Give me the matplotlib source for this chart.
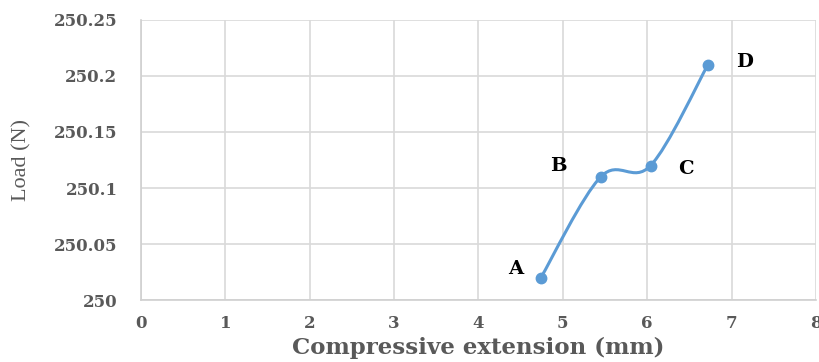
import numpy as np
import matplotlib
matplotlib.use("Agg")
import matplotlib.pyplot as plt
from matplotlib.path import Path
from matplotlib.patches import PathPatch

# data
ext = [4.74, 5.45, 6.04, 6.72]          # compressive extension (mm)
load = [250.02, 250.11, 250.12, 250.21]  # load (N)
names = ['A', 'B', 'C', 'D']
xticks = [0, 1, 2, 3, 4, 5, 6, 7, 8]
yticks = [250, 250.05, 250.1, 250.15, 250.2, 250.25]
ytick_labels = ['250', '250.05', '250.1', '250.15', '250.2', '250.25']

grey = '#595959'
blue = '#5B9BD5'
wide = ['DejaVu Serif']
serif = ['Liberation Serif', 'DejaVu Serif']

fig = plt.figure(figsize=(8.2, 3.62), dpi=100)
ax = fig.add_axes([0.172, 0.171, 0.823, 0.774])

# excel style smoothed line: bezier through the points
pts = np.column_stack([ext, load])
verts = [pts[0]]
codes = [Path.MOVETO]
n = len(pts)
for i in range(n - 1):
    p0 = pts[max(i - 1, 0)]
    p1 = pts[i]
    p2 = pts[i + 1]
    p3 = pts[min(i + 2, n - 1)]
    c1 = p1 + (p2 - p0) / 6.0
    c2 = p2 - (p3 - p1) / 6.0
    verts += [c1, c2, p2]
    codes += [Path.CURVE4] * 3
ax.add_patch(PathPatch(Path(verts, codes), facecolor='none', edgecolor=blue,
                       lw=2.2, capstyle='round', zorder=3))
ax.plot(ext, load, 'o', color=blue, ms=7.5, zorder=4)

# point labels
offs = [(-0.3, 0.008), (-0.5, 0.01), (0.42, -0.003), (0.43, 0.002)]
for x, y, s, (dx, dy) in zip(ext, load, names, offs):
    ax.text(x + dx, y + dy, s, fontsize=14, fontweight='bold', family=wide,
            color='black', ha='center', va='center')

ax.set_xlim(0, 8)
ax.set_ylim(250, 250.25)
ax.set_xticks(xticks)
ax.set_yticks(yticks)
ax.set_yticklabels(ytick_labels)
ax.grid(True, color='#D9D9D9', lw=1.2)
ax.set_axisbelow(True)
for s in ['top', 'right']:
    ax.spines[s].set_visible(False)
for s in ['left', 'bottom']:
    ax.spines[s].set_color('#D0D0D0')
    ax.spines[s].set_linewidth(1.2)
ax.tick_params(length=0, colors=grey, labelsize=12)
ax.tick_params(axis='x', pad=11)
ax.tick_params(axis='y', pad=17)
for lab in ax.get_xticklabels() + ax.get_yticklabels():
    lab.set_family(wide)
    lab.set_fontweight('bold')

ax.set_xlabel('Compressive extension (mm)', fontsize=16.5, fontweight='bold',
              family=wide, color=grey)
ax.set_ylabel('Load (N)', fontsize=16, family=serif, color=grey)
ax.xaxis.set_label_coords(0.5, -0.13)
ax.yaxis.set_label_coords(-0.162, 0.5)

fig.savefig('out.png', dpi=100)
